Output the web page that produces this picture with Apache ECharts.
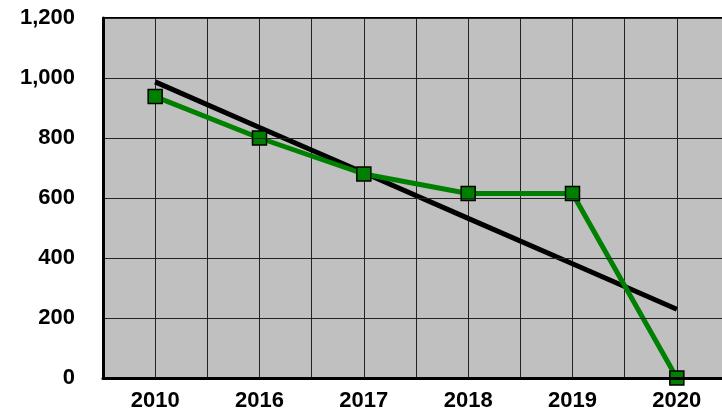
<!DOCTYPE html>
<html>
<head>
<meta charset="utf-8">
<script src="https://cdn.jsdelivr.net/npm/echarts@6/dist/echarts.min.js"></script>
<style>
  html, body { margin: 0; padding: 0; background: #fff; overflow: hidden; }
  #chart { width: 729px; height: 409px; }
</style>
</head>
<body>
<div id="chart"></div>
<script>
const years = ['2010', '2016', '2017', '2018', '2019', '2020']
const values = [938, 800, 680, 615, 615, 0]
// trend line
const trend = [987, 835, 684, 532, 381, 229]
// half-band slots, only used to draw the vertical grid
const gridSlots = ['a', 'b', 'c', 'd', 'e', 'f', 'g', 'h', 'i', 'j', 'k', 'l']

const font = 'Liberation Sans, Arial, sans-serif'

const chart = echarts.init(document.getElementById('chart'))

chart.setOption({
  animation: false,
  backgroundColor: '#ffffff',
  grid: {
    left: 103,
    right: 0,
    top: 18,
    bottom: 31,
    outerBoundsMode: 'none',
    show: true,
    backgroundColor: '#c0c0c0',
    borderWidth: 0,
  },
  xAxis: [
    {
      type: 'category',
      data: years,
      boundaryGap: true,
      axisLine: { lineStyle: { color: '#000', width: 3 } },
      axisTick: { show: false },
      axisLabel: { color: '#000', fontFamily: font, fontWeight: 'bold', fontSize: 22, margin: 12 },
      splitLine: { show: false },
      z: 5,
    },
    {
      type: 'category',
      data: gridSlots,
      position: 'top',
      boundaryGap: true,
      axisLine: { lineStyle: { color: '#000', width: 2 } },
      axisTick: { show: false },
      axisLabel: { show: false },
      splitLine: { show: true, lineStyle: { color: '#222', width: 1 } },
    },
  ],
  yAxis: {
    type: 'value',
    min: 0,
    max: 1200,
    interval: 200,
    axisLine: { show: true, lineStyle: { color: '#000', width: 3 } },
    axisTick: { show: false },
    axisLabel: {
      color: '#000',
      fontFamily: font,
      fontWeight: 'bold',
      fontSize: 22,
      margin: 28,
      formatter: (v) => v.toLocaleString('en-US'),
    },
    splitLine: { show: true, lineStyle: { color: '#222', width: 1 } },
    z: 5,
  },
  series: [
    {
      name: 'trend',
      type: 'line',
      data: trend,
      showSymbol: false,
      lineStyle: { color: '#000', width: 5 },
      z: 3,
    },
    {
      name: 'value',
      type: 'line',
      data: values,
      symbol: 'rect',
      symbolSize: 14,
      lineStyle: { color: '#008000', width: 5 },
      itemStyle: { color: '#008000', borderColor: '#000', borderWidth: 1.5 },
      z: 4,
    },
  ],
})
</script>
</body>
</html>
